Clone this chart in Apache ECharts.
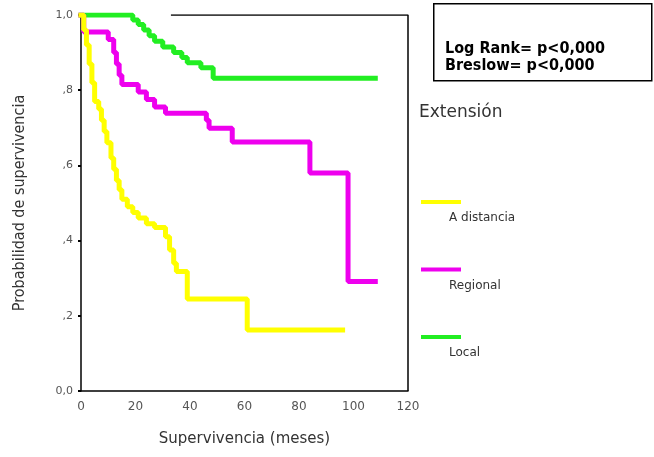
<!DOCTYPE html>
<html>
<head>
<meta charset="utf-8">
<script src="https://cdn.jsdelivr.net/npm/echarts@6/dist/echarts.min.js"></script>
<style>
  html, body { margin: 0; padding: 0; background: #fff; }
  #chart { width: 654px; height: 457px; }
</style>
</head>
<body>
<div id="chart"></div>
<script>
// curvas de Kaplan-Meier: [meses, supervivencia]
const aDistancia = [
  [0, 1], [1, 0.96], [2, 0.92], [3, 0.87], [4, 0.82], [5, 0.77], [6.5, 0.75],
  [7.5, 0.72], [8.5, 0.69], [9.5, 0.66], [11, 0.62], [12, 0.59], [13, 0.56],
  [14, 0.535], [15, 0.51], [17, 0.49], [19, 0.475], [21, 0.46], [24, 0.445],
  [27, 0.435], [31, 0.41], [32.5, 0.375], [34, 0.34], [35, 0.318], [39, 0.245],
  [61, 0.162], [96, 0.162]
];
const regional = [
  [0, 1], [1, 0.955], [10, 0.935], [12, 0.9], [13, 0.87], [14, 0.84], [15, 0.815],
  [21, 0.795], [24, 0.775], [27, 0.755], [31, 0.739], [46, 0.72], [47, 0.699],
  [55.5, 0.662], [84, 0.58], [98, 0.291], [108, 0.291]
];
const local = [
  [0, 1], [19, 0.987], [21, 0.975], [23, 0.96], [25, 0.945], [27, 0.93],
  [30, 0.915], [34, 0.9], [37, 0.887], [39, 0.873], [44, 0.86], [48.5, 0.832],
  [108, 0.832]
];
const marco = [[33, 1], [120, 1], [120, 0]];

const nombres = ["A distancia", "Regional", "Local"];
const colores = ["#ffff00", "#ee00ee", "#22ee22"];
const curvas = [aDistancia, regional, local];
const yTicks = {0: "0,0", 0.2: ",2", 0.4: ",4", 0.6: ",6", 0.8: ",8", 1: "1,0"};

const chart = echarts.init(document.getElementById("chart"));

const series = curvas.map((d, i) => ({
  name: nombres[i],
  type: "line",
  step: "end",
  data: d,
  symbol: "none",
  lineStyle: { color: colores[i], width: 5, cap: "square" },
  z: 3 + (2 - i)
}));
series.push({
  name: "marco",
  type: "line",
  data: marco,
  symbol: "none",
  silent: true,
  lineStyle: { color: "#000", width: 1.5 },
  z: 1
});

// leyenda dibujada a mano: línea de color y texto debajo
const leyenda = [
  { type: "text", left: 419, top: 104,
    style: { text: "Extensión", font: "17px 'DejaVu Sans'", fill: "#333" } }
];
nombres.forEach((n, i) => {
  const y = 202 + i * 67.5;
  leyenda.push({ type: "rect", left: 421, top: y - 2,
    shape: { width: 40, height: 4 }, style: { fill: colores[i] } });
  leyenda.push({ type: "text", left: 449, top: y + 10,
    style: { text: n, font: "12px 'DejaVu Sans'", fill: "#333" } });
});
leyenda.push({
  type: "rect", left: 433, top: 3, shape: { width: 218, height: 77 },
  style: { fill: "#fff", stroke: "#000", lineWidth: 1.5 }
});
leyenda.push({
  type: "text", left: 445, top: 40,
  style: { text: "Log Rank= p<0,000\nBreslow= p<0,000",
    font: "bold 16px 'DejaVu Sans Condensed'", fill: "#000", lineHeight: 17 }
});

chart.setOption({
  animation: false,
  backgroundColor: "#fff",
  grid: { left: 81, right: 246, top: 15, bottom: 66 },
  xAxis: {
    type: "value", min: 0, max: 120, interval: 20,
    name: "Supervivencia (meses)", nameLocation: "middle", nameGap: 41,
    nameTextStyle: { fontFamily: "DejaVu Sans", fontSize: 15, color: "#333" },
    axisLine: { show: true, lineStyle: { color: "#000", width: 1.5 } },
    axisTick: { show: false },
    axisLabel: { fontFamily: "DejaVu Sans", fontSize: 12, color: "#555", margin: 10 },
    splitLine: { show: false }
  },
  yAxis: {
    type: "value", min: 0, max: 1, interval: 0.2,
    name: "Probabilidad de supervivencia", nameLocation: "middle", nameGap: 53, nameRotate: 90,
    nameTextStyle: { fontFamily: "DejaVu Sans Condensed", fontSize: 16, color: "#333" },
    axisLine: { show: true, lineStyle: { color: "#000", width: 1.5 } },
    axisTick: { show: true, length: 3, lineStyle: { color: "#000", width: 2 } },
    axisLabel: {
      fontFamily: "DejaVu Sans", fontSize: 11, color: "#555", margin: 8,
      formatter: v => yTicks[Math.round(v * 10) / 10]
    },
    splitLine: { show: false }
  },
  series: series,
  graphic: leyenda
});
</script>
</body>
</html>
